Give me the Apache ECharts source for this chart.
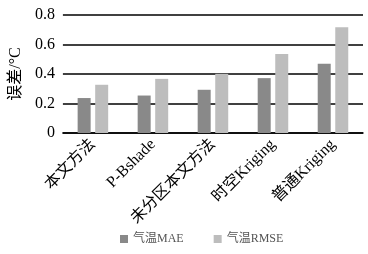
<!DOCTYPE html>
<html><head><meta charset="utf-8">
<script src="https://cdn.jsdelivr.net/npm/echarts@6/dist/echarts.min.js"></script>
<style>html,body{margin:0;padding:0;background:#fff}#c{width:368px;height:254px}</style>
</head><body><div id="c"></div>
<script>
const categories = ['本文方法','P-Bshade','未分区本文方法','时空Kriging','普通Kriging'];
const maeValues = [0.237, 0.254, 0.293, 0.372, 0.469];
const rmseValues = [0.327, 0.367, 0.401, 0.536, 0.717];
const seriesNames = ['气温MAE','气温RMSE'];
const yTicks = [0, 0.2, 0.4, 0.6, 0.8];
const yName = '误差/°C';
const font = '"Liberation Serif","Noto Sans CJK SC",serif';
const chart = echarts.init(document.getElementById('c'));
chart.setOption({
  animation:false,
  grid:{left:62,right:5,top:15,bottom:121},
  legend:{bottom:4,left:115,itemWidth:8,itemHeight:8,itemGap:30,icon:'rect',
    textStyle:{fontFamily:font,fontSize:12,color:'#555'},data:seriesNames},
  xAxis:{type:'category',data:categories,
    axisLine:{lineStyle:{color:'#000',width:1.5}},axisTick:{show:false},
    axisLabel:{rotate:45,interval:0,fontFamily:font,fontSize:16,color:'#000',margin:9}},
  yAxis:{type:'value',min:yTicks[0],max:yTicks[yTicks.length-1],interval:0.2,
    name:yName,nameLocation:'middle',nameGap:37,nameRotate:90,
    nameTextStyle:{fontFamily:font,fontSize:16,color:'#000'},
    axisLine:{show:false},axisTick:{show:false},
    splitLine:{lineStyle:{color:'#000',width:1.5}},
    axisLabel:{fontFamily:font,fontSize:16,color:'#000',margin:8,
      formatter:v=>v===0?'0':v.toFixed(1)}},
  series:[
    {name:seriesNames[0],type:'bar',data:maeValues,barWidth:13,barGap:'35%',itemStyle:{color:'#898989'}},
    {name:seriesNames[1],type:'bar',data:rmseValues,barWidth:13,itemStyle:{color:'#bdbdbd'}}
  ]
});
</script></body></html>
